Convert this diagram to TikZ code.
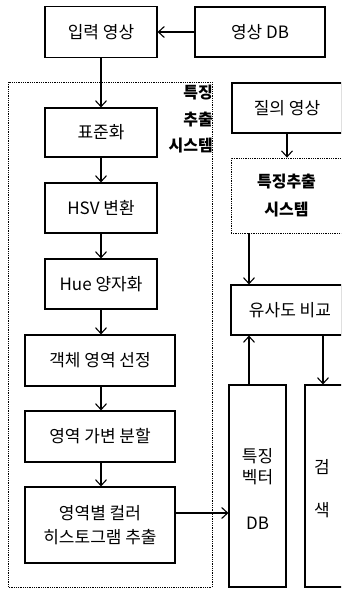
\documentclass[tikz,border=0pt]{standalone}
\usepackage{fontspec}
\setmainfont{Noto Sans CJK KR}
\usetikzlibrary{arrows.meta,calc}
\tikzset{
  box/.style={draw,line width=1.1pt,inner sep=0pt,align=center,font=\fontsize{17}{24}\selectfont},
  dbox/.style={draw,densely dotted,line width=0.8pt,inner sep=0pt},
  txt/.style={inner sep=0pt,align=center,font=\fontsize{17}{21}\selectfont},
  btxt/.style={inner sep=0pt,font=\fontsize{16}{26.5}\selectfont\bfseries},
  arr/.style={line width=1.1pt,-{Straight Barb[length=6pt,width=11pt,line width=1.1pt]}}
}
\begin{document}
\begin{tikzpicture}[x=1pt,y=-1pt]
\clip (0,0) rectangle (341,589);
\fill[white] (0,0) rectangle (341,589);
% left column
\node[box,minimum width=112pt,minimum height=51pt] (in) at (101,32) {입력 영상};
\node[box,minimum width=130pt,minimum height=50pt] (db) at (260,32) {영상 DB};
\draw[dbox] (8,82) rectangle (212,587);
\node[btxt,anchor=north east,align=right] (lab) at (213,85) {특징\\추출\\시스템};
\node[box,minimum width=112pt,minimum height=49pt] (std) at (101,132.5) {표준화};
\node[box,minimum width=112pt,minimum height=50pt] (hsv) at (101,208) {HSV 변환};
\node[box,minimum width=112pt,minimum height=50pt] (hue) at (101,284) {Hue 양자화};
\node[box,minimum width=150pt,minimum height=51pt] (obj) at (100,360.5) {객체 영역 선정};
\node[box,minimum width=150pt,minimum height=51pt] (div) at (100,436.5) {영역 가변 분할};
\node[box,minimum width=150pt,minimum height=76pt] (hist) at (100,525) {영역별 컬러\\히스토그램 추출};
% right column
\node[box,minimum width=110pt,minimum height=50pt] (query) at (287,108) {질의 영상};
\node[dbox,minimum width=111pt,minimum height=75pt,align=center,font=\fontsize{16}{28}\selectfont\bfseries] (fe) at (286.5,195.5) {특징추출\\시스템};
\node[box,minimum width=111pt,minimum height=50pt] (sim) at (286.5,310) {\hspace*{7pt}유사도 비교};
\node[box,minimum width=57pt,minimum height=202pt] (fvdb) at (257.5,486) {};
\node[box,minimum width=45pt,minimum height=202pt] (srch) at (327.5,486) {};
\node[txt] (fvt) at (257.5,467) {특징\\벡터};
\node[txt] (fvdbt) at (257.5,523) {DB};
\node[txt] (s1) at (322,467) {검};
\node[txt] (s2) at (322,510) {색};
% arrows
\draw[arr] (db.west) -- (in.east);
\draw[arr] (in.south) -- (std.north);
\draw[arr] (std.south) -- (hsv.north);
\draw[arr] (hsv.south) -- (hue.north);
\draw[arr] (hue.south) -- (hue.south |- obj.north);
\draw[arr] (obj.south -| hue.south) -- (hue.south |- div.north);
\draw[arr] (div.south -| hue.south) -- (hue.south |- hist.north);
\draw[arr] ([yshift=12pt]hist.east) -- ([yshift=12pt]hist.east -| fvdb.west);
\draw[arr] (query.south) -- (query.south |- fe.north);
\coordinate (ax) at (249,0);
\coordinate (bx) at (323,0);
\draw[arr] (ax |- fe.south) -- (ax |- sim.north);
\draw[arr] (ax |- fvdb.north) -- (ax |- sim.south);
\draw[arr] (bx |- sim.south) -- (bx |- srch.north);
\end{tikzpicture}
\end{document}
